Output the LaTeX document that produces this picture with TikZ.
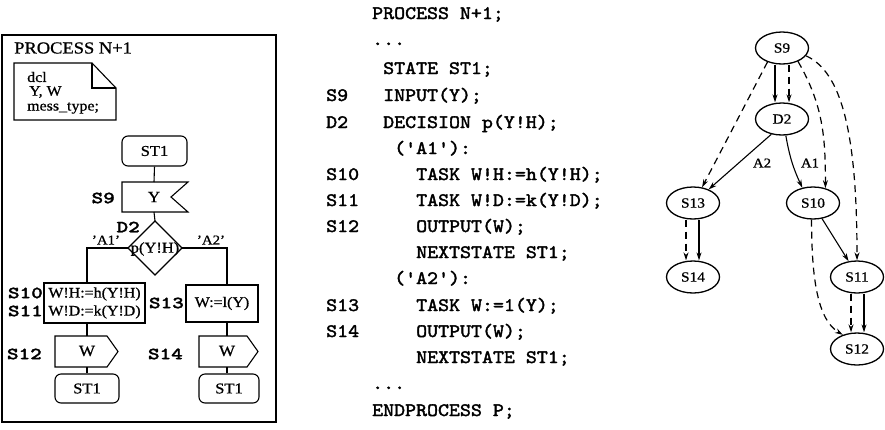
\documentclass[tikz,border=0pt]{standalone}
\usepackage{fontspec}
\setmainfont{Liberation Serif}[FakeStretch=1.1,FakeBold=0.8]
\newfontfamily\codefont{lmmono10-regular}[Extension=.otf,FakeStretch=1.1,FakeBold=2]
\newfontfamily\labfont{lmmonolt10-bold}[Extension=.otf,FakeStretch=1.3,FakeBold=1.5]
\usetikzlibrary{arrows.meta,shapes.geometric}
\tikzset{
  fl/.style={line width=1.1pt},
  txt/.style={inner sep=0pt, font=\fontsize{14.5}{15}\selectfont},
  notetxt/.style={inner sep=0pt, anchor=west, font=\fontsize{14.5}{15}\selectfont},
  lab/.style={inner sep=0pt, anchor=east, font=\labfont\fontsize{17}{17}\selectfont},
  code/.style={inner sep=0pt, anchor=base west, font=\codefont\fontsize{19}{19}\selectfont},
  stbox/.style={draw, line width=1.1pt, rounded corners=6pt, inner sep=0pt, minimum height=30pt, font=\fontsize{15}{15}\selectfont},
  taskbox/.style={draw, line width=1.1pt, inner sep=0pt, align=center, font=\fontsize{14.5}{18}\selectfont},
  gn/.style={draw, ellipse, line width=1.3pt, minimum width=53pt, minimum height=32pt, inner sep=0pt, font=\fontsize{14}{14}\selectfont},
  glab/.style={inner sep=0pt, font=\fontsize{13.5}{13.5}\selectfont},
  ar/.style={-{Stealth[length=8pt,width=5pt]}, line width=1.1pt},
  da/.style={ar, line width=1.2pt, dash pattern=on 7pt off 5pt},
}
\begin{document}
\begin{tikzpicture}[x=1pt,y=-1pt]
\useasboundingbox (0,0) rectangle (885,429);
\fill[white] (0,0) rectangle (885,429);

% ---------- left: SDL flowchart ----------
\draw[fl] (2,35) rectangle (276,422);
\node[inner sep=0pt, anchor=west, font=\fontsize{16.8}{17}\selectfont] (title) at (14,48) {PROCESS N+1};

% declaration note
\draw[fl] (14,63) -- (92,63) -- (116,88) -- (116,120) -- (14,120) -- cycle;
\draw[fl] (92,63) -- (92,88) -- (116,88);
\node[notetxt] (dcl) at (27,77) {dcl};
\node[notetxt] (yw) at (29,92) {Y, W};
\node[notetxt] (mt) at (27,108) {mess\_type;};

% start state
\node[stbox, minimum width=65pt] (st1a) at (154.5,151) {ST1};

% input S9
\coordinate (inT) at (154,182);
\coordinate (inB) at (154,212);
\draw[fl] (122,182) -- (188,182) -- (171,197) -- (188,212) -- (122,212) -- cycle;
\node[txt, font=\fontsize{15.5}{16}\selectfont] (inY) at (154,197) {Y};
\node[lab] (lS9) at (115,198) {S9};
\draw[fl] (st1a.south) -- (inT);

% decision D2
\coordinate (dT) at (155,221);
\coordinate (dL) at (128,248);
\coordinate (dR) at (182,248);
\draw[fl] (dT) -- (dR) -- (155,275) -- (dL) -- cycle;
\node[txt, font=\fontsize{15}{15}\selectfont] (dec) at (155,249) {p(Y!H)};
\node[lab] (lD2) at (140,227) {D2};
\draw[fl] (inB) -- (dT);
\node[inner sep=0pt, font=\fontsize{13.5}{13.5}\selectfont] (a1) at (106,240) {'A1'};
\node[inner sep=0pt, font=\fontsize{13.5}{13.5}\selectfont] (a2) at (211,240) {'A2'};

% tasks
\node[taskbox, minimum width=101pt, minimum height=40pt] (t1) at (94.5,303) {W!H:=h(Y!H)\\W!D:=k(Y!D)};
\node[taskbox, minimum width=72pt, minimum height=37pt] (t2) at (222,303.5) {W:=l(Y)};
\node[lab] (lS10) at (43,293) {S10};
\node[lab] (lS11) at (43,311) {S11};
\node[lab] (lS13) at (184,303) {S13};
\draw[fl] (dL) -- (87,248) -- (87,283);
\draw[fl] (dR) -- (227,248) -- (227,285);

% outputs
\draw[fl] (55,336) -- (107,336) -- (118,351.5) -- (107,367) -- (55,367) -- cycle;
\draw[fl] (199,336) -- (247,336) -- (258,351.5) -- (247,367) -- (199,367) -- cycle;
\node[txt, font=\fontsize{15.5}{16}\selectfont] (o1) at (87,351) {W};
\node[txt, font=\fontsize{15.5}{16}\selectfont] (o2) at (227,351) {W};
\node[lab] (lS12) at (42,354) {S12};
\node[lab] (lS14) at (183,354) {S14};
\coordinate (o1T) at (87,336);
\coordinate (o1B) at (87,367);
\coordinate (o2T) at (227,336);
\coordinate (o2B) at (227,367);
\draw[fl] (87,323) -- (o1T);
\draw[fl] (227,322) -- (o2T);

% next states
\node[stbox, minimum width=64pt, minimum height=29pt] (st1b) at (87,388.5) {ST1};
\node[stbox, minimum width=60pt, minimum height=29pt] (st1c) at (229,388.5) {ST1};
\draw[fl] (o1B) -- (o1B |- st1b.north);
\draw[fl] (o2B) -- (o2B |- st1c.north);

% ---------- middle: textual form ----------
\node[code] (c0) at (372,19) {PROCESS N+1;};
\node[code] (c1) at (372,45) {...};
\node[code] (c2) at (383,74) {STATE ST1;};
\node[code] (k9) at (326,101) {S9};
\node[code] (c3) at (383,101) {INPUT(Y);};
\node[code] (kd2) at (326,128) {D2};
\node[code] (c4) at (383,128) {DECISION p(Y!H);};
\node[code] (c5) at (394,154) {('A1'):};
\node[code] (k10) at (326,180) {S10};
\node[code] (c6) at (416,180) {TASK W!H:=h(Y!H);};
\node[code] (k11) at (326,206) {S11};
\node[code] (c7) at (416,206) {TASK W!D:=k(Y!D);};
\node[code] (k12) at (326,232) {S12};
\node[code] (c8) at (416,232) {OUTPUT(W);};
\node[code] (c9) at (416,258) {NEXTSTATE ST1;};
\node[code] (c10) at (394,284) {('A2'):};
\node[code] (k13) at (326,311) {S13};
\node[code] (c11) at (416,311) {TASK W:=1(Y);};
\node[code] (k14) at (326,337) {S14};
\node[code] (c12) at (416,337) {OUTPUT(W);};
\node[code] (c13) at (416,363) {NEXTSTATE ST1;};
\node[code] (c14) at (372,389) {...};
\node[code] (c15) at (372,416) {ENDPROCESS P;};

% ---------- right: dependence graph ----------
\node[gn] (g9) at (782,48) {S9};
\node[gn] (gd2) at (782,119) {D2};
\node[gn] (g13) at (693,203) {S13};
\node[gn] (g10) at (813,203) {S10};
\node[gn] (g14) at (693,277) {S14};
\node[gn] (g11) at (857,277) {S11};
\node[gn] (g12) at (857,349) {S12};

\draw[ar] ([xshift=-7pt]g9.south) -- ([xshift=-7pt]gd2.north);
\draw[da] ([xshift=7pt]g9.south) -- ([xshift=7pt]gd2.north);
\draw[da] (g9.224) -- (g13.60);
\draw[ar] (gd2.235) -- (g13.41);
\draw[ar] (gd2.283) to[out=-80,in=115] (g10.125);
\draw[da] (g9.-40) to[out=-60,in=90] (g10.50);
\draw[da] (g9.-18) .. controls +(35,16) and +(0,-130) .. (g11.north);
\draw[ar] (g10.-60) -- (g11.118);
\draw[da] (g10.-95) .. controls +(0,60) and +(-25,-15) .. (g12.135);
\draw[da] ([xshift=-6pt]g11.south) -- ([xshift=-6pt]g12.north);
\draw[ar] ([xshift=7pt]g11.south) -- ([xshift=7pt]g12.north);
\draw[da] ([xshift=-7pt]g13.south) -- ([xshift=-7pt]g14.north);
\draw[ar] ([xshift=6pt]g13.south) -- ([xshift=6pt]g14.north);
\node[glab] (lA2) at (762,163) {A2};
\node[glab] (lA1) at (810,163) {A1};
\end{tikzpicture}
\end{document}
